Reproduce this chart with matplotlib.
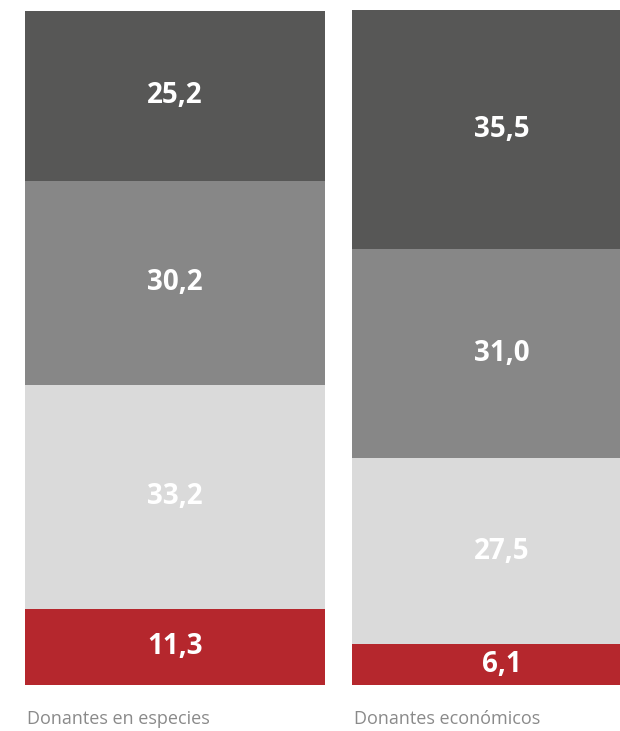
import matplotlib.pyplot as plt

# Share of donors by segment (%), bottom to top
categories = ['Donantes en especies', 'Donantes económicos']
red_vals = [11.3, 6.1]
light_vals = [33.2, 27.5]
mid_vals = [30.2, 31.0]
dark_vals = [25.2, 35.5]

colors = ['#b5272d', '#dadada', '#878787', '#575756']
series = [red_vals, light_vals, mid_vals, dark_vals]

fig = plt.figure(figsize=(6.2, 7.31), dpi=100)
# axes spans from the left edge of first bar to the right edge of the image
ax = fig.add_axes([25 / 620, 1 - 685 / 731, 595 / 620, 675 / 731])

x = [0, 1]
width = 300 / 327
bottoms = [0, 0]
for vals, col in zip(series, colors):
    ax.bar(x, vals, width=width, bottom=bottoms, color=col,
           edgecolor='none', linewidth=0)
    for xi, b, v in zip(x, bottoms, vals):
        ax.text(xi, b + v / 2, f'{v:.1f}'.replace('.', ','),
                ha='center', va='center', color='white',
                fontsize=20, fontweight='bold', family='Open Sans')
    bottoms = [b + v for b, v in zip(bottoms, vals)]

ax.set_xlim(-width / 2, -width / 2 + 595 / 327)
ax.set_ylim(0, 100)
ax.axis('off')

# category labels under each bar, left aligned
for xi, cat in zip(x, categories):
    ax.text(xi - width / 2 + 2 / 327, -34 / 675 * 100, cat, ha='left', va='center',
            color='#8a8a8a', fontsize=13, family='Open Sans')

fig.savefig('out.png', dpi=100)
